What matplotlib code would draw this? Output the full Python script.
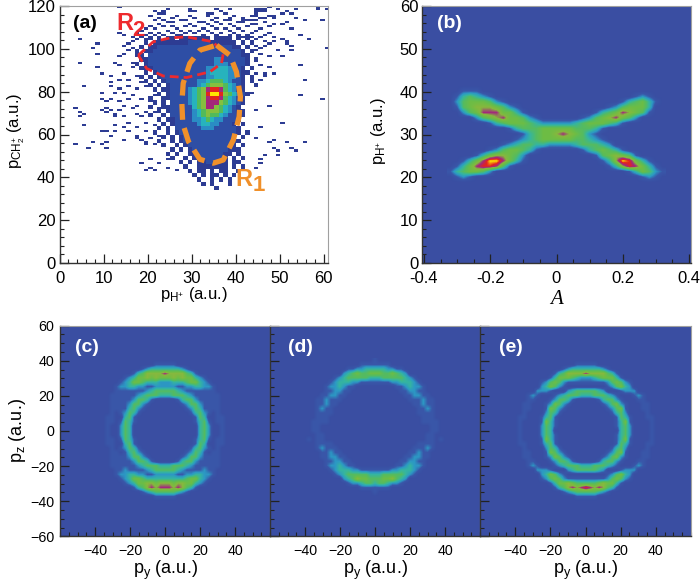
import numpy as np
import matplotlib
matplotlib.use("Agg")
import matplotlib.pyplot as plt
from matplotlib.colors import LinearSegmentedColormap
from matplotlib.ticker import MultipleLocator

plt.rcParams['font.family'] = ['Liberation Sans', 'DejaVu Sans']
plt.rcParams['mathtext.fontset'] = 'custom'
plt.rcParams['mathtext.rm'] = 'Liberation Sans'
plt.rcParams['mathtext.it'] = 'Liberation Sans:italic'
plt.rcParams['mathtext.bf'] = 'Liberation Sans:bold'

#########################################################
# data, intensity levels 0-9
#########################################################
# panel a: body of the histogram, x = 15..46, y = 104..34 in steps of 2
a_body_y = list(range(104, 32, -2))
a_body = [
    "00000101011011111110111101010000",
    "00001011111111222221111110100000",
    "00010112222222222222222211010000",
    "00101122222222222222222222101000",
    "00110222222222222222222222110000",
    "00011222222222222222332222210100",
    "00101222222222222222333222210000",
    "00011122222222222233444332101000",
    "00001012222222222234444332110000",
    "00010101222222222233444332101000",
    "00001010122222223345554322101000",
    "00000101012222223456665432100100",
    "00000010112222345678875432100000",
    "00000001012222345689986543210000",
    "00000100112222345678875432100000",
    "00000010102222345677765432100000",
    "00000100112222245677654321000000",
    "00000001012222234566654321100000",
    "00000100102222234565543221100000",
    "00000001011222233454332221000000",
    "00000000101222223443322210100000",
    "00000001010222222333222221000000",
    "00000010010122222222222221010000",
    "00000000101012222222222210100000",
    "00000001001012222222222221000000",
    "00000000100101222222222210100000",
    "00000000001010122222222111000000",
    "00000000010100112222221101000000",
    "00000000001001011222221010100000",
    "00000000000010101122211011000000",
    "00000000000001001111111010100000",
    "00000000000000101101011001000000",
    "00000000000000010101101010000000",
    "00000000000000001001010100000000",
    "00000000000000000101000100000000",
    "00000000000000000000100000000000",
]

# panel a: lone cells around the body
noise_y = [119, 118, 117, 116, 115, 114, 113, 112, 111, 110, 109, 108, 107, 106, 105,
           104, 103, 102, 101, 100, 99, 97, 96, 93, 92, 91, 88, 87, 85, 84, 82, 81,
           79, 78, 76, 75, 73, 72, 71, 70, 69, 68, 65, 64, 63, 61, 59, 58, 57, 56,
           55, 53, 52, 50, 48, 46, 44, 43]
noise_x = [[13, 47, 58],
           [24, 29, 35, 38, 44, 45, 46, 49, 53, 58, 60],
           [21, 23, 29, 30, 36, 44, 45, 46, 51],
           [22, 23, 33, 34, 37, 44, 50, 52],
           [20, 26, 29, 33, 39, 43, 44, 47, 48],
           [22, 25, 30, 35, 38, 41, 45, 46, 48, 53],
           [21, 23, 27, 28, 34, 37, 38, 41, 42, 43, 44, 55, 59],
           [24, 25, 31, 32, 35, 40, 41, 46, 51],
           [22, 29, 33, 36, 38, 43, 44, 48, 50],
           [20, 23, 25, 28, 30, 34, 39, 42, 47],
           [19, 21, 26, 32, 35, 37, 40, 45, 52],
           [18, 24, 27, 29, 31, 33, 38, 41, 44],
           [13, 17, 20, 22, 25, 28, 30, 34, 36, 39, 43, 47],
           [14, 19, 21, 23, 26, 27, 32, 35, 38, 40, 42, 46, 54],
           [16, 18, 20, 22, 24, 29, 31, 33, 37, 41, 43, 45, 48],
           [4, 17, 19, 42, 44, 50, 56],
           [16, 43, 46, 48, 51],
           [8, 15, 43, 47, 51],
           [14, 44, 46, 52],
           [7, 16, 45, 60],
           [15, 44, 49, 52],
           [8, 14, 45],
           [13, 47, 50],
           [4, 12, 16],
           [13, 45, 54],
           [8, 16, 47],
           [9, 14, 44, 46, 48],
           [11, 17, 46],
           [13, 15, 45, 55],
           [11, 18],
           [5, 11, 15, 19],
           [13, 17],
           [9, 12, 14, 43],
           [16, 21, 54],
           [9, 11, 15, 18, 59],
           [10, 13, 20],
           [14, 17, 47],
           [3, 10, 16, 22],
           [9, 11, 13, 44],
           [4, 10, 19, 21],
           [5, 12, 17],
           [4, 12, 14, 18, 20],
           [15, 19, 50],
           [5, 12, 21],
           [14, 17, 45],
           [9, 10, 12, 15, 19],
           [11, 17, 22],
           [17, 20, 44],
           [14, 18, 48],
           [7, 10, 19, 47, 51, 55],
           [3, 9, 19, 21],
           [6, 10, 48, 52],
           [53, 49],
           [49, 46],
           [20, 24, 45],
           [18, 22, 45],
           [20, 24, 44],
           [19, 21, 26]]

# panel b: grid x = -0.32..0.32 in steps of 0.02, y from 41.25 down in steps of 1.25
b_rows = [
    "",
    "00111",
    "0134321000000000000000000000121",
    "02455542100000000000000000134531",
    "014566654210000000000000" + "1245553",
    "002457775531" + "0000000000" + "134576541",
    "00002456755421" + "000000" + "124567542",
    "000000" + "134555432222234555431",
    "000000000" + "134445555544431",
    "00000000000" + "134556765421",
    "0000000000" + "12345555544321",
    "00000000" + "12344332222344432",
    "000000" + "12455431" + "000000" + "1345431",
    "0000" + "13566542" + "0000000000" + "1456541",
    "00" + "1357997531" + "00000000000" + "13698531",
    "0" + "135788741" + "00000000000000" + "13687531",
    "1345542" + "00000000000000000000" + "135421",
    "0121" + "0000000000000000000000000" + "121",
    "",
]

# panels c, d, e: right half of each row (x = 0, 2.5, .. 42.5), y = 40 .. -40 in steps of 2.5
c_rows = [
    "", "111", "333321", "76666431", "5565655321", "22333455321", "222112233221",
    "444321111111", "3344432111111", "0001344211111", "0000124421111",
    "0000012431111", "0000001342101", "00000001430011", "00000001341011",
    "00000000342001", "00000000342001", "00000000342001", "00000001341011",
    "00000001430011", "0000001342101", "0000012431011", "0000124421111",
    "0001344211111", "3344432111111", "444321111211", "222112233221",
    "33333455321", "6656655321", "77676431", "444321", "111", "",
]
d_rows = [
    "1", "1111", "3332211", "55445432", "33444443210", "11112233321",
    "00000112322100", "00000011221100", "00000001122110", "00000000111211",
    "000000000112110", "00000000001121", "00000000001111", "000000000001110",
    "000000000001111", "0000000000000110", "0000000000000110",
    "000000000000110", "0000000000001101", "000000000011110", "00000000011121",
    "000000001121100", "00000001122110", "00000011221100", "00000112322100",
    "11112233321", "33444443210", "44556432", "3443221", "1111", "1", "", "",
]
e_rows = [
    "", "111", "333321", "76666431", "22345553100", "11111245421", "00000124532",
    "44432000122200", "3344432100012100", "00013442100011", "00001245210001100",
    "0000012451000110", "000000134200001", "0000000143100011", "00000001351000010",
    "00000001342000010", "00000000342000010", "00000001342000010", "00000001351000010",
    "0000000143100011", "000000134200001", "0000012451000110", "00001245210001100",
    "00013442100011", "3344432100012100", "44432000122200", "00000124532",
    "11111245421", "44456553100", "87676431", "444321", "111", "",
]

# dashed regions in panel a
r1_x = [35.7, 38.7, 40.2, 41.1, 40.8, 39.5, 37.2, 34.9, 31.9, 29.3, 28.0, 27.8, 28.1, 29.6, 31.9, 35.7]
r1_y = [101.7, 97.0, 89.3, 77.6, 68.3, 57.5, 48.1, 46.6, 48.4, 56.7, 65.2, 74.5, 83.9, 93.2, 99.4, 101.7]
r2_x = [17.9, 21.3, 25.1, 28.9, 34.9, 37.2, 36.8, 34.2, 28.9, 23.6, 19.8, 17.9]
r2_y = [97.0, 103.3, 105.1, 105.6, 103.3, 97.8, 93.2, 89.3, 86.6, 87.3, 90.8, 97.0]

BG = "#3a4ea2"
levels_map = ["#3a4ea2", "#3957a9", "#2c98c4", "#35b5a0", "#55bb60", "#6dbd45",
              "#86b83e", "#a3287d", "#e2231f", "#ffe600"]
levels_a = ["#ffffff", "#2b3a92", "#2f4fa6", "#2a8cc4", "#27b4bd", "#52ba5c",
            "#86bf3f", "#a3287d", "#e2231f", "#ffe600"]
cmap = LinearSegmentedColormap.from_list("root", levels_map, N=256)
cmap_a = LinearSegmentedColormap.from_list("roota", levels_a, N=256)


#########################################################
# def functions
#########################################################
def rows_to_array(rows, ncol):
    return np.array([[int(c) for c in r.ljust(ncol, "0")[:ncol]] for r in rows], dtype=float)


def mirror(rows):
    half = rows_to_array(rows, 18)
    return np.hstack([half[:, :0:-1], half])


def make_ax(left, right, top, bottom):
    W, H = 700.0, 586.0
    ax = fig.add_axes([left/W, 1-bottom/H, (right-left)/W, (bottom-top)/H])
    for s in ["left", "bottom"]:
        ax.spines[s].set_color("#333333")
        ax.spines[s].set_linewidth(1.0)
    for s in ["top", "right"]:
        ax.spines[s].set_color("#a0a0a0")
        ax.spines[s].set_linewidth(0.8)
    ax.tick_params(which="major", direction="in", length=6.5, width=0.9, color="#222222",
                   top=False, right=False)
    ax.tick_params(which="minor", direction="in", length=3.2, width=0.8, color="#222222",
                   top=False, right=False)
    return ax


def ring_panel(ax, rows, label):
    ax.set_facecolor(BG)
    ax.imshow(mirror(rows), extent=(-43.75, 43.75, -41.25, 41.25), cmap=cmap, vmin=0, vmax=9,
              interpolation="bilinear", aspect="auto", origin="upper")
    ax.set_xlim(-60, 60)
    ax.set_ylim(-60, 60)
    ax.set_xticks([-40, -20, 0, 20, 40])
    ax.set_yticks([-60, -40, -20, 0, 20, 40, 60])
    ax.xaxis.set_minor_locator(MultipleLocator(5))
    ax.yaxis.set_minor_locator(MultipleLocator(5))
    ax.tick_params(axis="x", labelsize=10.3, pad=5.5)
    ax.tick_params(axis="y", labelsize=10.3, pad=4)
    ax.set_xlabel(r"p$_{\mathrm{y}}$ (a.u.)", fontsize=13)
    ax.xaxis.set_label_coords(0.5, -0.105)
    ax.text(label[1], 0.897, label[0], transform=ax.transAxes, color="white", fontsize=14,
            fontweight="bold", ha="center", va="center")


#########################################################
# Plot figures
#########################################################
fig = plt.figure(figsize=(7.0, 5.86), dpi=100)

# panel a
ax = make_ax(59.5, 328, 6, 263)
grid_a = np.zeros((120, 61))
for y, xs in zip(noise_y, noise_x):
    for x in xs:
        grid_a[y, min(x, 60)] = 1
body = rows_to_array(a_body, 32)
for j, y in enumerate(a_body_y):
    for i in range(32):
        if body[j, i] > 0:
            grid_a[y:y+2, 15+i] = body[j, i]
ax.imshow(grid_a, extent=(0, 61, 0, 120), origin="lower", cmap=cmap_a, vmin=0, vmax=9,
          interpolation="nearest", aspect="auto")
ax.plot(r2_x, r2_y, color="#ee2a2e", lw=2.0, ls=(0, (3.2, 1.8)))
ax.plot(r1_x, r1_y, color="#f0902a", lw=3.8, ls=(0, (3.0, 1.6)))
ax.set_xlim(0, 61)
ax.set_ylim(0, 120)
ax.set_xticks(range(0, 61, 10))
ax.set_yticks(range(0, 121, 20))
ax.xaxis.set_minor_locator(MultipleLocator(2))
ax.yaxis.set_minor_locator(MultipleLocator(4))
ax.tick_params(axis="x", labelsize=12, pad=6)
ax.tick_params(axis="y", labelsize=12, pad=3)
ax.set_xlabel(r"p$_{\mathrm{H}^{+}}$ (a.u.)", fontsize=12)
ax.xaxis.set_label_coords(0.5, -0.085)
ax.set_ylabel(r"p$_{\mathrm{CH}_{2}^{+}}$ (a.u.)", fontsize=12)
ax.yaxis.set_label_coords(-0.12, 0.515)
ax.text(0.095, 0.93, "(a)", transform=ax.transAxes, fontsize=14, fontweight="bold",
        ha="center", va="center", color="black")
ax.text(13, 108.7, "R", color="#ee2a2e", fontsize=17, fontweight="bold")
ax.text(16.6, 106.2, "2", color="#ee2a2e", fontsize=16, fontweight="bold")
ax.text(40, 36, "R", color="#f0902a", fontsize=17, fontweight="bold")
ax.text(43.8, 33.8, "1", color="#f0902a", fontsize=16, fontweight="bold")

# panel b
ax = make_ax(422.3, 690.7, 6, 263)
ax.set_facecolor(BG)
ax.imshow(rows_to_array(b_rows, 33), extent=(-0.33, 0.33, 18.125, 41.875), cmap=cmap, vmin=0, vmax=9,
          interpolation="bilinear", aspect="auto", origin="upper")
ax.set_xlim(-0.405, 0.405)
ax.set_ylim(0, 60)
ax.set_xticks([-0.4, -0.2, 0, 0.2, 0.4])
ax.set_xticklabels(["-0.4", "-0.2", "0", "0.2", "0.4"])
ax.set_yticks(range(0, 61, 10))
ax.xaxis.set_minor_locator(MultipleLocator(0.05))
ax.yaxis.set_minor_locator(MultipleLocator(2))
ax.tick_params(axis="x", labelsize=12, pad=6)
ax.tick_params(axis="y", labelsize=12, pad=3)
ax.set_xlabel("A", fontsize=15, family="Liberation Serif", style="italic")
ax.xaxis.set_label_coords(0.5, -0.105)
ax.set_ylabel(r"p$_{\mathrm{H}^{+}}$ (a.u.)", fontsize=12)
ax.yaxis.set_label_coords(-0.128, 0.515)
ax.text(0.10, 0.93, "(b)", transform=ax.transAxes, color="white", fontsize=14,
        fontweight="bold", ha="center", va="center")

# panels c, d, e
ax = make_ax(60, 270, 325.7, 536.3)
ring_panel(ax, c_rows, ("(c)", 0.128))
ax.set_ylabel(r"p$_{\mathrm{z}}$ (a.u.)", fontsize=13)
ax.yaxis.set_label_coords(-0.15, 0.5)

ax = make_ax(270, 480, 325.7, 536.3)
ring_panel(ax, d_rows, ("(d)", 0.143))
ax.tick_params(axis="y", labelleft=False)

ax = make_ax(480, 691, 325.7, 536.3)
ring_panel(ax, e_rows, ("(e)", 0.148))
ax.tick_params(axis="y", labelleft=False)

plt.savefig("out.png", dpi=100)
